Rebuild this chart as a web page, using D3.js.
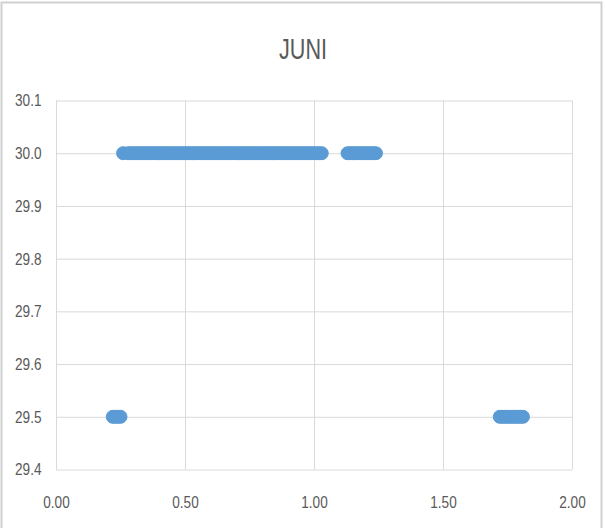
<!DOCTYPE html>
<html>
<head>
<meta charset="utf-8">
<script src="https://cdn.jsdelivr.net/npm/d3@7"></script>
<style>
  html, body { margin: 0; padding: 0; background: #ffffff; }
  svg { display: block; }
  text { font-family: "Liberation Sans", Arial, sans-serif; fill: #595959; }
</style>
</head>
<body>
<svg id="chart" width="605" height="528"></svg>
<script>
// Measurements for June: x reading and the level it was logged at
const title = "JUNI";

// readings logged at 30.0
const xAt300 = [
  0.26, 0.28, 0.29, 0.30, 0.31, 0.32, 0.33, 0.34, 0.35, 0.36,
  0.37, 0.38, 0.39, 0.40, 0.41, 0.42, 0.43, 0.44, 0.45, 0.46,
  0.47, 0.48, 0.49, 0.50, 0.51, 0.52, 0.53, 0.54, 0.55, 0.56,
  0.57, 0.58, 0.59, 0.60, 0.61, 0.62, 0.63, 0.64, 0.65, 0.66,
  0.67, 0.68, 0.69, 0.70, 0.71, 0.72, 0.73, 0.74, 0.75, 0.76,
  0.77, 0.78, 0.79, 0.80, 0.81, 0.82, 0.83, 0.84, 0.85, 0.86,
  0.87, 0.88, 0.89, 0.90, 0.91, 0.92, 0.93, 0.94, 0.95, 0.96,
  0.97, 0.98, 0.99, 1.00, 1.01, 1.02, 1.03,
  1.13, 1.14, 1.15, 1.16, 1.17, 1.18, 1.19, 1.20, 1.21, 1.22,
  1.23, 1.24
];
// readings logged at 29.5
const xAt295 = [
  0.22, 0.23, 0.24, 0.25,
  1.72, 1.73, 1.74, 1.75, 1.76, 1.77, 1.78, 1.79, 1.80, 1.81
];

const xTicks = [0.00, 0.50, 1.00, 1.50, 2.00];
const yTicks = [29.4, 29.5, 29.6, 29.7, 29.8, 29.9, 30.0, 30.1];

const points = [
  ...xAt300.map(x => ({ x, y: 30.0 })),
  ...xAt295.map(x => ({ x, y: 29.5 }))
];

const plot = { left: 56, right: 572, top: 100.5, bottom: 469.5 };
const squeeze = 0.8;   // narrow glyph width for all labels
const labelFont = '"Liberation Sans", Arial, sans-serif';

const svg = d3.select("#chart");

// outer chart frame
svg.append("rect")
  .attr("x", 1.5).attr("y", 2.5)
  .attr("width", 600).attr("height", 540)
  .attr("fill", "#ffffff")
  .attr("stroke", "#d0d0d0")
  .attr("stroke-width", 2);

const x = d3.scaleLinear().domain([0, 2]).range([plot.left, plot.right]);
const y = d3.scaleLinear().domain([29.4, 30.1]).range([plot.bottom, plot.top]);

// gridlines
const grid = svg.append("g");
grid.append("g")
  .attr("transform", `translate(0,${plot.bottom})`)
  .call(d3.axisBottom(x).tickValues(xTicks).tickSize(-(plot.bottom - plot.top)).tickFormat(""))
  .call(g => g.select(".domain").remove())
  .call(g => g.selectAll("line").attr("stroke", "#d9d9d9").attr("stroke-width", 1));
grid.append("g")
  .attr("transform", `translate(${plot.left},0)`)
  .call(d3.axisLeft(y).tickValues(yTicks).tickSize(-(plot.right - plot.left)).tickFormat(""))
  .call(g => g.select(".domain").remove())
  .call(g => g.selectAll("line").attr("stroke", "#d9d9d9").attr("stroke-width", 1));

// x tick labels
const xAxis = svg.append("g")
  .attr("transform", `translate(0,${plot.bottom})`)
  .call(d3.axisBottom(x).tickValues(xTicks).tickSize(0).tickPadding(26).tickFormat(d3.format(".2f")));
xAxis.select(".domain").remove();
xAxis.selectAll("text")
  .style("font-size", "17px").style("fill", "#595959").style("font-family", labelFont)
  .attr("transform", `scale(${squeeze},1)`);

// y tick labels
const yAxis = svg.append("g")
  .attr("transform", `translate(${plot.left},0)`)
  .call(d3.axisLeft(y).tickValues(yTicks).tickSize(0).tickFormat(d3.format(".1f")));
yAxis.select(".domain").remove();
yAxis.selectAll("text")
  .style("font-size", "17px").style("fill", "#595959").style("font-family", labelFont)
  .attr("x", -14.5 / squeeze)
  .attr("transform", `scale(${squeeze},1)`);

// markers
svg.append("g")
  .selectAll("circle")
  .data(points)
  .join("circle")
  .attr("cx", d => x(d.x))
  .attr("cy", d => y(d.y))
  .attr("r", 6.5)
  .attr("fill", "#5b9bd5")
  .attr("stroke", "#5b9bd5")
  .attr("stroke-width", 1);

// title
const titleScale = 0.72;
svg.append("text")
  .attr("x", 303 / titleScale).attr("y", 59)
  .attr("transform", `scale(${titleScale},1)`)
  .attr("text-anchor", "middle")
  .style("font-size", "30px")
  .style("fill", "#595959")
  .text(title);
</script>
</body>
</html>
